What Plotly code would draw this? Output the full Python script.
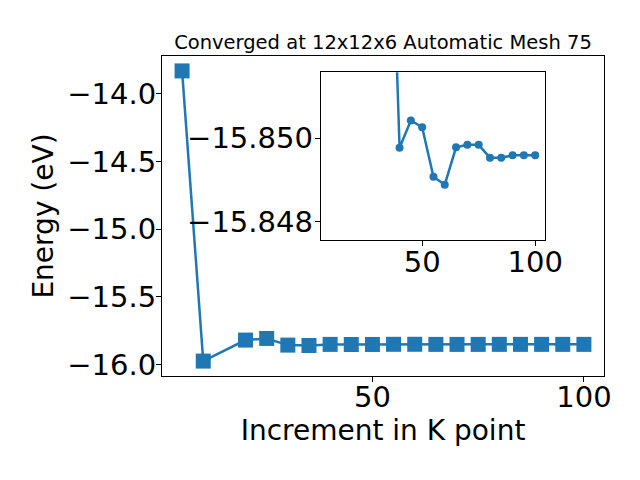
import plotly.graph_objects as go

kpoints = [5, 10, 20, 25, 30, 35, 40, 45, 50, 55, 60, 65, 70, 75, 80, 85, 90, 95, 100]
energy = [-13.832, -15.973, -15.818, -15.806, -15.855, -15.858,
          -15.84977, -15.85042, -15.85026, -15.84908, -15.84889, -15.84978,
          -15.84984, -15.84984, -15.84953, -15.84953, -15.84959, -15.84959, -15.84959]
inset_start = 5  # inset shows the points from 35 onward

main_yticks = [-16.0, -15.5, -15.0, -14.5, -14.0]
main_xticks = [50, 100]
inset_yticks = [-15.850, -15.848]
inset_xticks = [50, 100]

title_text = "Converged at 12x12x6 Automatic Mesh 75"
color = "#1f77b4"
FONT = "DejaVu Sans"
TICKSIZE = 29

# page body has an 8px margin: figure drawn 632x472 so it fills the 640x480 window
W, H = 632, 472
OFF = 8

fig = go.Figure()
fig.add_trace(go.Scatter(
    x=kpoints, y=energy, mode="lines+markers",
    line=dict(color=color, width=2.5),
    marker=dict(symbol="square", size=15, color=color),
    xaxis="x", yaxis="y", showlegend=False, cliponaxis=True))
fig.add_trace(go.Scatter(
    x=kpoints[inset_start:], y=energy[inset_start:], mode="lines+markers",
    line=dict(color=color, width=2.5),
    marker=dict(symbol="circle", size=8, color=color),
    xaxis="x2", yaxis="y2", showlegend=False, cliponaxis=True))

axis_common = dict(showgrid=False, zeroline=False, showline=True, linecolor="black",
                   linewidth=1, mirror=True, ticks="outside", ticklen=5, tickwidth=1,
                   tickcolor="black", automargin=False,
                   tickfont=dict(family=FONT, size=TICKSIZE, color="black"))

fig.update_layout(
    width=W, height=H,
    margin=dict(l=162 - OFF, r=36, t=56 - OFF, b=104),
    paper_bgcolor="white", plot_bgcolor="white",
    font=dict(family=FONT, color="black"),
    title=dict(text=title_text, x=(383 - OFF) / W, y=1 - (42 - OFF) / H,
               xanchor="center", yanchor="middle",
               font=dict(family=FONT, size=19.5, color="black")),
    xaxis=dict(domain=[0, 1], range=[0.25, 104.75], tickvals=main_xticks, anchor="y",
               ticklabelstandoff=-10,
               title=dict(text="Increment in K point", font=dict(family=FONT, size=28), standoff=4),
               **axis_common),
    yaxis=dict(domain=[0, 1], range=[-16.083, -13.722], tickvals=main_yticks, tickformat=".1f",
               anchor="x", ticklabelstandoff=-6,
               title=dict(text="Energy (eV)", font=dict(family=FONT, size=28), standoff=5),
               **axis_common),
    xaxis2=dict(domain=[0.359, 0.866], range=[5.1, 104.25], tickvals=inset_xticks, anchor="y2",
                ticklabelstandoff=-9, **axis_common),
    yaxis2=dict(domain=[0.425, 0.949], range=[-15.84757, -15.85157], tickvals=inset_yticks,
                tickformat=".3f", anchor="x2", ticklabelstandoff=-4, **axis_common),
)

fig.write_html("out.html")
